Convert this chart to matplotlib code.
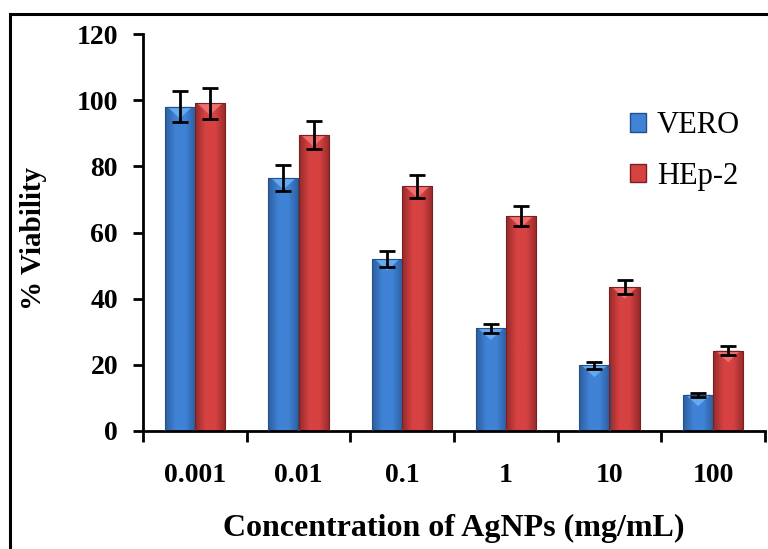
import numpy as np
import matplotlib.pyplot as plt
from matplotlib.patches import Rectangle
from matplotlib.colors import LinearSegmentedColormap

# data
concentraciones = ["0.001", "0.01", "0.1", "1", "10", "100"]
vero = [98, 76.5, 52, 31, 19.8, 11]
vero_err = [4.7, 4.0, 2.5, 1.4, 1.0, 0.6]
hep2 = [99, 89.5, 74, 65, 43.5, 24.3]
hep2_err = [4.8, 4.3, 3.5, 3.0, 2.1, 1.4]

plt.rcParams['font.family'] = ['Liberation Serif', 'DejaVu Serif']

fig = plt.figure(figsize=(7.68, 5.49), dpi=100)
ax = fig.add_axes([143/768, 118/549, 622/768, 397/549])

x = np.arange(len(concentraciones))
w = 0.29

def barras_brillo(rects, c_borde, c_centro, c_luz):
    cmap = LinearSegmentedColormap.from_list(
        "g", [c_borde, c_centro, c_centro, c_borde])
    for r in rects:
        x0, y0 = r.get_x(), r.get_y()
        bw, bh = r.get_width(), r.get_height()
        grad = np.linspace(0, 1, 64).reshape(1, -1)
        im = ax.imshow(grad, cmap=cmap, aspect='auto',
                       extent=[x0, x0 + bw, y0, y0 + bh], zorder=2)
        im.set_clip_path(r)
        # brillo superior
        ax.fill([x0 + bw*0.08, x0 + bw*0.92, x0 + bw*0.5],
                [y0 + bh, y0 + bh, y0 + bh - 3.5],
                color=c_luz, alpha=0.8, zorder=3, lw=0)
        r.set_facecolor('none')

b1 = ax.bar(x - w/2, vero, w, edgecolor='#23508a', linewidth=0.8, zorder=4)
b2 = ax.bar(x + w/2, hep2, w, edgecolor='#7a2020', linewidth=0.8, zorder=4)
barras_brillo(b1, '#2c5e9e', '#3f82d6', '#6fb4f5')
barras_brillo(b2, '#952a2a', '#d64242', '#f77a7a')

ax.errorbar(x - w/2, vero, yerr=vero_err, fmt='none', ecolor='black',
            elinewidth=2, capsize=6, capthick=2, zorder=5)
ax.errorbar(x + w/2, hep2, yerr=hep2_err, fmt='none', ecolor='black',
            elinewidth=2, capsize=6, capthick=2, zorder=5)

ax.set_xlim(-0.5, len(x) - 0.5)
ax.set_ylim(0, 120)
ax.set_yticks(range(0, 121, 20))

for s in ['top', 'right']:
    ax.spines[s].set_visible(False)
for s in ['left', 'bottom']:
    ax.spines[s].set_linewidth(2)

ax.set_xticks(x)
ax.set_xticklabels(concentraciones, fontsize=20, fontweight='bold')
ax.set_xticks(np.arange(-0.5, len(x)), minor=True)
ax.tick_params(axis='x', which='major', length=0, pad=23)
ax.tick_params(axis='x', which='minor', length=8, width=2, direction='out')
ax.tick_params(axis='y', length=7, width=2, direction='out', pad=11,
               labelsize=20)
for t in ax.get_yticklabels():
    t.set_fontweight('bold')

ax.set_xlabel("Concentration of AgNPs (mg/mL)", fontsize=23,
              fontweight='bold', labelpad=19)
ax.set_ylabel("% Viability", fontsize=21, fontweight='bold')
ax.yaxis.set_label_coords(-0.155, 0.484)

h1 = Rectangle((0, 0), 1, 1, facecolor='#3f82d6', edgecolor='#23508a')
h2 = Rectangle((0, 0), 1, 1, facecolor='#d64242', edgecolor='#7a2020')
ax.legend([h1, h2], ["VERO", "HEp-2"], fontsize=22, frameon=False,
          loc='upper left', bbox_to_anchor=(0.738, 0.875),
          handlelength=0.55, handleheight=0.55, handletextpad=0.35,
          labelspacing=0.71)

# marco exterior
fig.add_artist(Rectangle((10/768, -0.1), 1.2, 1.1 - 14/549,
                         transform=fig.transFigure, fill=False,
                         edgecolor='black', linewidth=2.2))

fig.savefig("out.png", dpi=100)
